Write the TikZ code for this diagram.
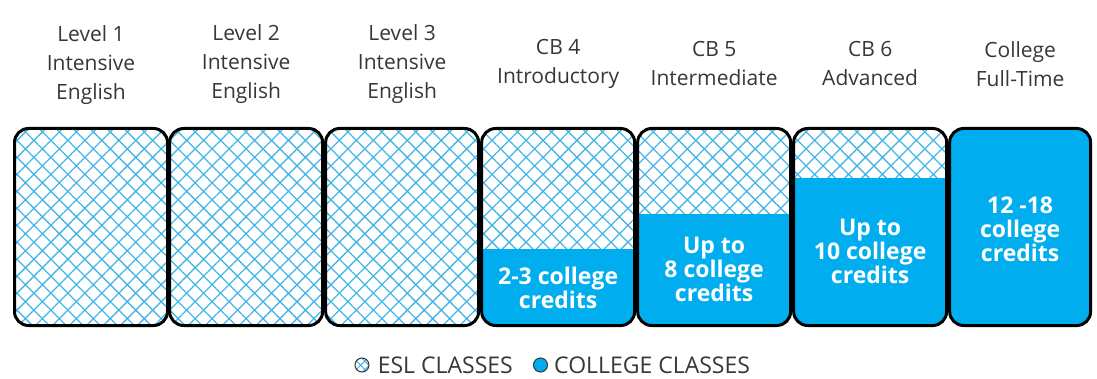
\documentclass[tikz,border=0pt]{standalone}
\usepackage{fontspec}
\setmainfont{Open Sans}
\usetikzlibrary{positioning,patterns.meta}
\definecolor{collegeblue}{RGB}{0,174,239}
\definecolor{hatchblue}{RGB}{70,182,232}
\definecolor{textgray}{RGB}{55,55,55}

\tikzset{
  basebox/.style={draw=black, line width=3pt, rounded corners=14pt, minimum width=153pt, minimum height=197pt},
  levelbox/.style={basebox, pattern={Hatch[angle=45,distance=12pt,line width=1.3pt]}, pattern color=hatchblue},
  collegefill/.style={path picture={\fill[collegeblue, sharp corners] (path picture bounding box.south west) rectangle ([yshift=-#1]path picture bounding box.north east);}},
  header/.style={align=center, text=textgray, font=\fontsize{21}{29}\selectfont},
  credits/.style={align=center, text=white, font=\fontsize{23}{24}\bfseries\selectfont},
  legendtext/.style={text=textgray, font=\fontsize{23}{24}\selectfont, inner sep=0pt},
}

\begin{document}
\begin{tikzpicture}[x=1pt, y=1pt]
    \useasboundingbox (0,0) rectangle (1097,378);

    % Draw the seven stages
    \node[levelbox] (b1) at (91,151) {};
    \node[levelbox, right=0pt of b1] (b2) {};
    \node[levelbox, right=0pt of b2] (b3) {};
    \node[levelbox, collegefill=120pt, right=0pt of b3] (b4) {};
    \node[levelbox, collegefill=85pt, right=0pt of b4] (b5) {};
    \node[levelbox, collegefill=50pt, right=0pt of b5] (b6) {};
    \node[basebox, fill=collegeblue, minimum width=141pt, right=0pt of b6] (b7) {};

    % Headings above the stages
    \foreach \i/\txt in {1/{Level 1\\Intensive\\English}, 2/{Level 2\\Intensive\\English},
        3/{Level 3\\Intensive\\English}, 4/{CB 4\\Introductory}, 5/{CB 5\\Intermediate},
        6/{CB 6\\Advanced}, 7/{College\\Full-Time}}
        \node[header] (h\i) at ([yshift=63pt]b\i.north) {\txt};

    % Credits in the college part
    \node[credits] (c4) at ([yshift=39pt]b4.south) {2-3 college\\credits};
    \node[credits] (c5) at ([yshift=58pt]b5.south) {Up to\\8 college\\credits};
    \node[credits] (c6) at ([yshift=76pt]b6.south) {Up to\\10 college\\credits};
    \node[credits] (c7) at ([yshift=98pt]b7.south) {12 -18\\college\\credits};

    % Legend
    \node[circle, draw=textgray, line width=1pt, minimum size=14pt, inner sep=0pt,
        pattern={Hatch[angle=45,distance=6pt,line width=1.2pt]}, pattern color=hatchblue] (eslmark) at (362,13) {};
    \node[legendtext, anchor=west, right=8pt of eslmark] (esl) {ESL CLASSES};
    \node[circle, draw=textgray, line width=1pt, minimum size=14pt, inner sep=0pt,
        fill=collegeblue, right=20pt of esl] (collegemark) {};
    \node[legendtext, anchor=west, right=6pt of collegemark] (college) {COLLEGE CLASSES};
\end{tikzpicture}
\end{document}
